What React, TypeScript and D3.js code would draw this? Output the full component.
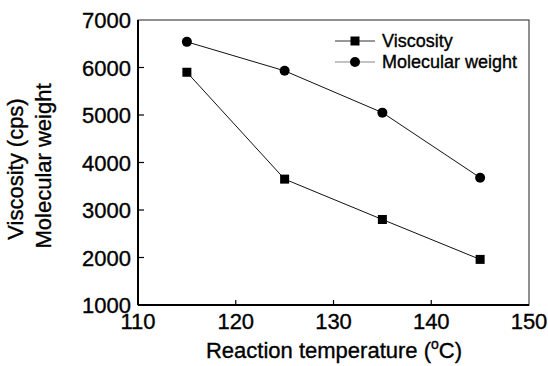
import React, { useRef, useEffect } from "react";
import * as d3 from "d3";

const temperatures = [115, 125, 135, 145];
const viscosity = [5900, 3650, 2800, 1960];
const molecularWeight = [6540, 5930, 5050, 3680];
const xTicks = [110, 120, 130, 140, 150];
const yTicks = [1000, 2000, 3000, 4000, 5000, 6000, 7000];

const W = 548;
const H = 366;
const margin = { left: 138, right: 19, top: 20, bottom: 61 };
const FONT = "Liberation Sans, Arial, sans-serif";

function App() {
  const svgRef = useRef<SVGSVGElement>(null);

  useEffect(() => {
    const svg = d3.select(svgRef.current);
    svg.selectAll("*").remove();

    const x = d3.scaleLinear().domain([110, 150]).range([margin.left, W - margin.right]);
    const y = d3.scaleLinear().domain([1000, 7000]).range([H - margin.bottom, margin.top]);

    // frame: heavy left/bottom, light top/right
    svg
      .append("rect")
      .attr("x", x(110))
      .attr("y", y(7000))
      .attr("width", x(150) - x(110))
      .attr("height", y(1000) - y(7000))
      .attr("fill", "none")
      .attr("stroke", "#222")
      .attr("stroke-width", 1);
    svg
      .append("line")
      .attr("x1", x(110)).attr("x2", x(110))
      .attr("y1", y(7000)).attr("y2", y(1000))
      .attr("stroke", "#000").attr("stroke-width", 2);
    svg
      .append("line")
      .attr("x1", x(110)).attr("x2", x(150))
      .attr("y1", y(1000)).attr("y2", y(1000))
      .attr("stroke", "#000").attr("stroke-width", 2);

    const textStyle = (sel: any, size: number) =>
      sel
        .attr("font-family", FONT)
        .attr("font-size", size)
        .attr("fill", "#000")
        .attr("stroke", "#000")
        .attr("stroke-width", 0.35);

    // x ticks (inward)
    svg
      .append("g")
      .selectAll("line")
      .data(xTicks.slice(1, -1))
      .join("line")
      .attr("x1", d => x(d)).attr("x2", d => x(d))
      .attr("y1", y(1000)).attr("y2", y(1000) - 5)
      .attr("stroke", "#000").attr("stroke-width", 1.2);
    textStyle(
      svg
        .append("g")
        .selectAll("text")
        .data(xTicks)
        .join("text")
        .attr("x", d => x(d))
        .attr("y", 329)
        .attr("text-anchor", "middle")
        .text(d => d),
      22
    );

    // y ticks (inward)
    svg
      .append("g")
      .selectAll("line")
      .data(yTicks.slice(1, -1))
      .join("line")
      .attr("x1", x(110)).attr("x2", x(110) + 6)
      .attr("y1", d => y(d)).attr("y2", d => y(d))
      .attr("stroke", "#000").attr("stroke-width", 1.2);
    textStyle(
      svg
        .append("g")
        .selectAll("text")
        .data(yTicks)
        .join("text")
        .attr("x", 131)
        .attr("y", d => y(d) + 8)
        .attr("text-anchor", "end")
        .text(d => d),
      22
    );

    // axis titles
    const xt = textStyle(
      svg.append("text").attr("x", 334).attr("y", 358).attr("text-anchor", "middle"),
      22
    );
    xt.append("tspan").text("Reaction temperature (");
    xt.append("tspan").attr("font-size", 14).attr("dy", -9).text("o");
    xt.append("tspan").attr("dy", 9).text("C)");

    textStyle(
      svg
        .append("text")
        .attr("transform", "translate(23,169) rotate(-90)")
        .attr("text-anchor", "middle")
        .text("Viscosity (cps)"),
      22
    );
    textStyle(
      svg
        .append("text")
        .attr("transform", "translate(51,166) rotate(-90)")
        .attr("text-anchor", "middle")
        .text("Molecular weight"),
      22
    );

    const series = [
      { name: "Viscosity", values: viscosity, shape: "square", legendLine: "#333" },
      { name: "Molecular weight", values: molecularWeight, shape: "circle", legendLine: "#888" },
    ];

    const line = d3
      .line<number>()
      .x((_, i) => x(temperatures[i]))
      .y(d => y(d));

    const drawMarker = (g: any, shape: string, cx: number, cy: number) => {
      if (shape === "square") {
        g.append("rect")
          .attr("x", cx - 4.5).attr("y", cy - 4.5)
          .attr("width", 9).attr("height", 9)
          .attr("fill", "#000");
      } else {
        g.append("circle").attr("cx", cx).attr("cy", cy).attr("r", 5).attr("fill", "#000");
      }
    };

    series.forEach((s, si) => {
      svg
        .append("path")
        .attr("d", line(s.values))
        .attr("fill", "none")
        .attr("stroke", "#111")
        .attr("stroke-width", 1);
      const g = svg.append("g");
      s.values.forEach((v, i) => drawMarker(g, s.shape, x(temperatures[i]), y(v)));

      // legend
      const ly = 41 + si * 21;
      svg
        .append("line")
        .attr("x1", 335).attr("x2", 375)
        .attr("y1", ly).attr("y2", ly)
        .attr("stroke", s.legendLine).attr("stroke-width", 1.2);
      drawMarker(svg.append("g"), s.shape, 355, ly);
      textStyle(
        svg.append("text").attr("x", 382).attr("y", ly + 6).text(s.name),
        18
      );
    });
  }, []);

  return (
    <div style={{ position: "absolute", left: 0, top: 0 }}>
      <svg ref={svgRef} width={W} height={H} style={{ display: "block", background: "#fff" }} />
    </div>
  );
}

export default App;
